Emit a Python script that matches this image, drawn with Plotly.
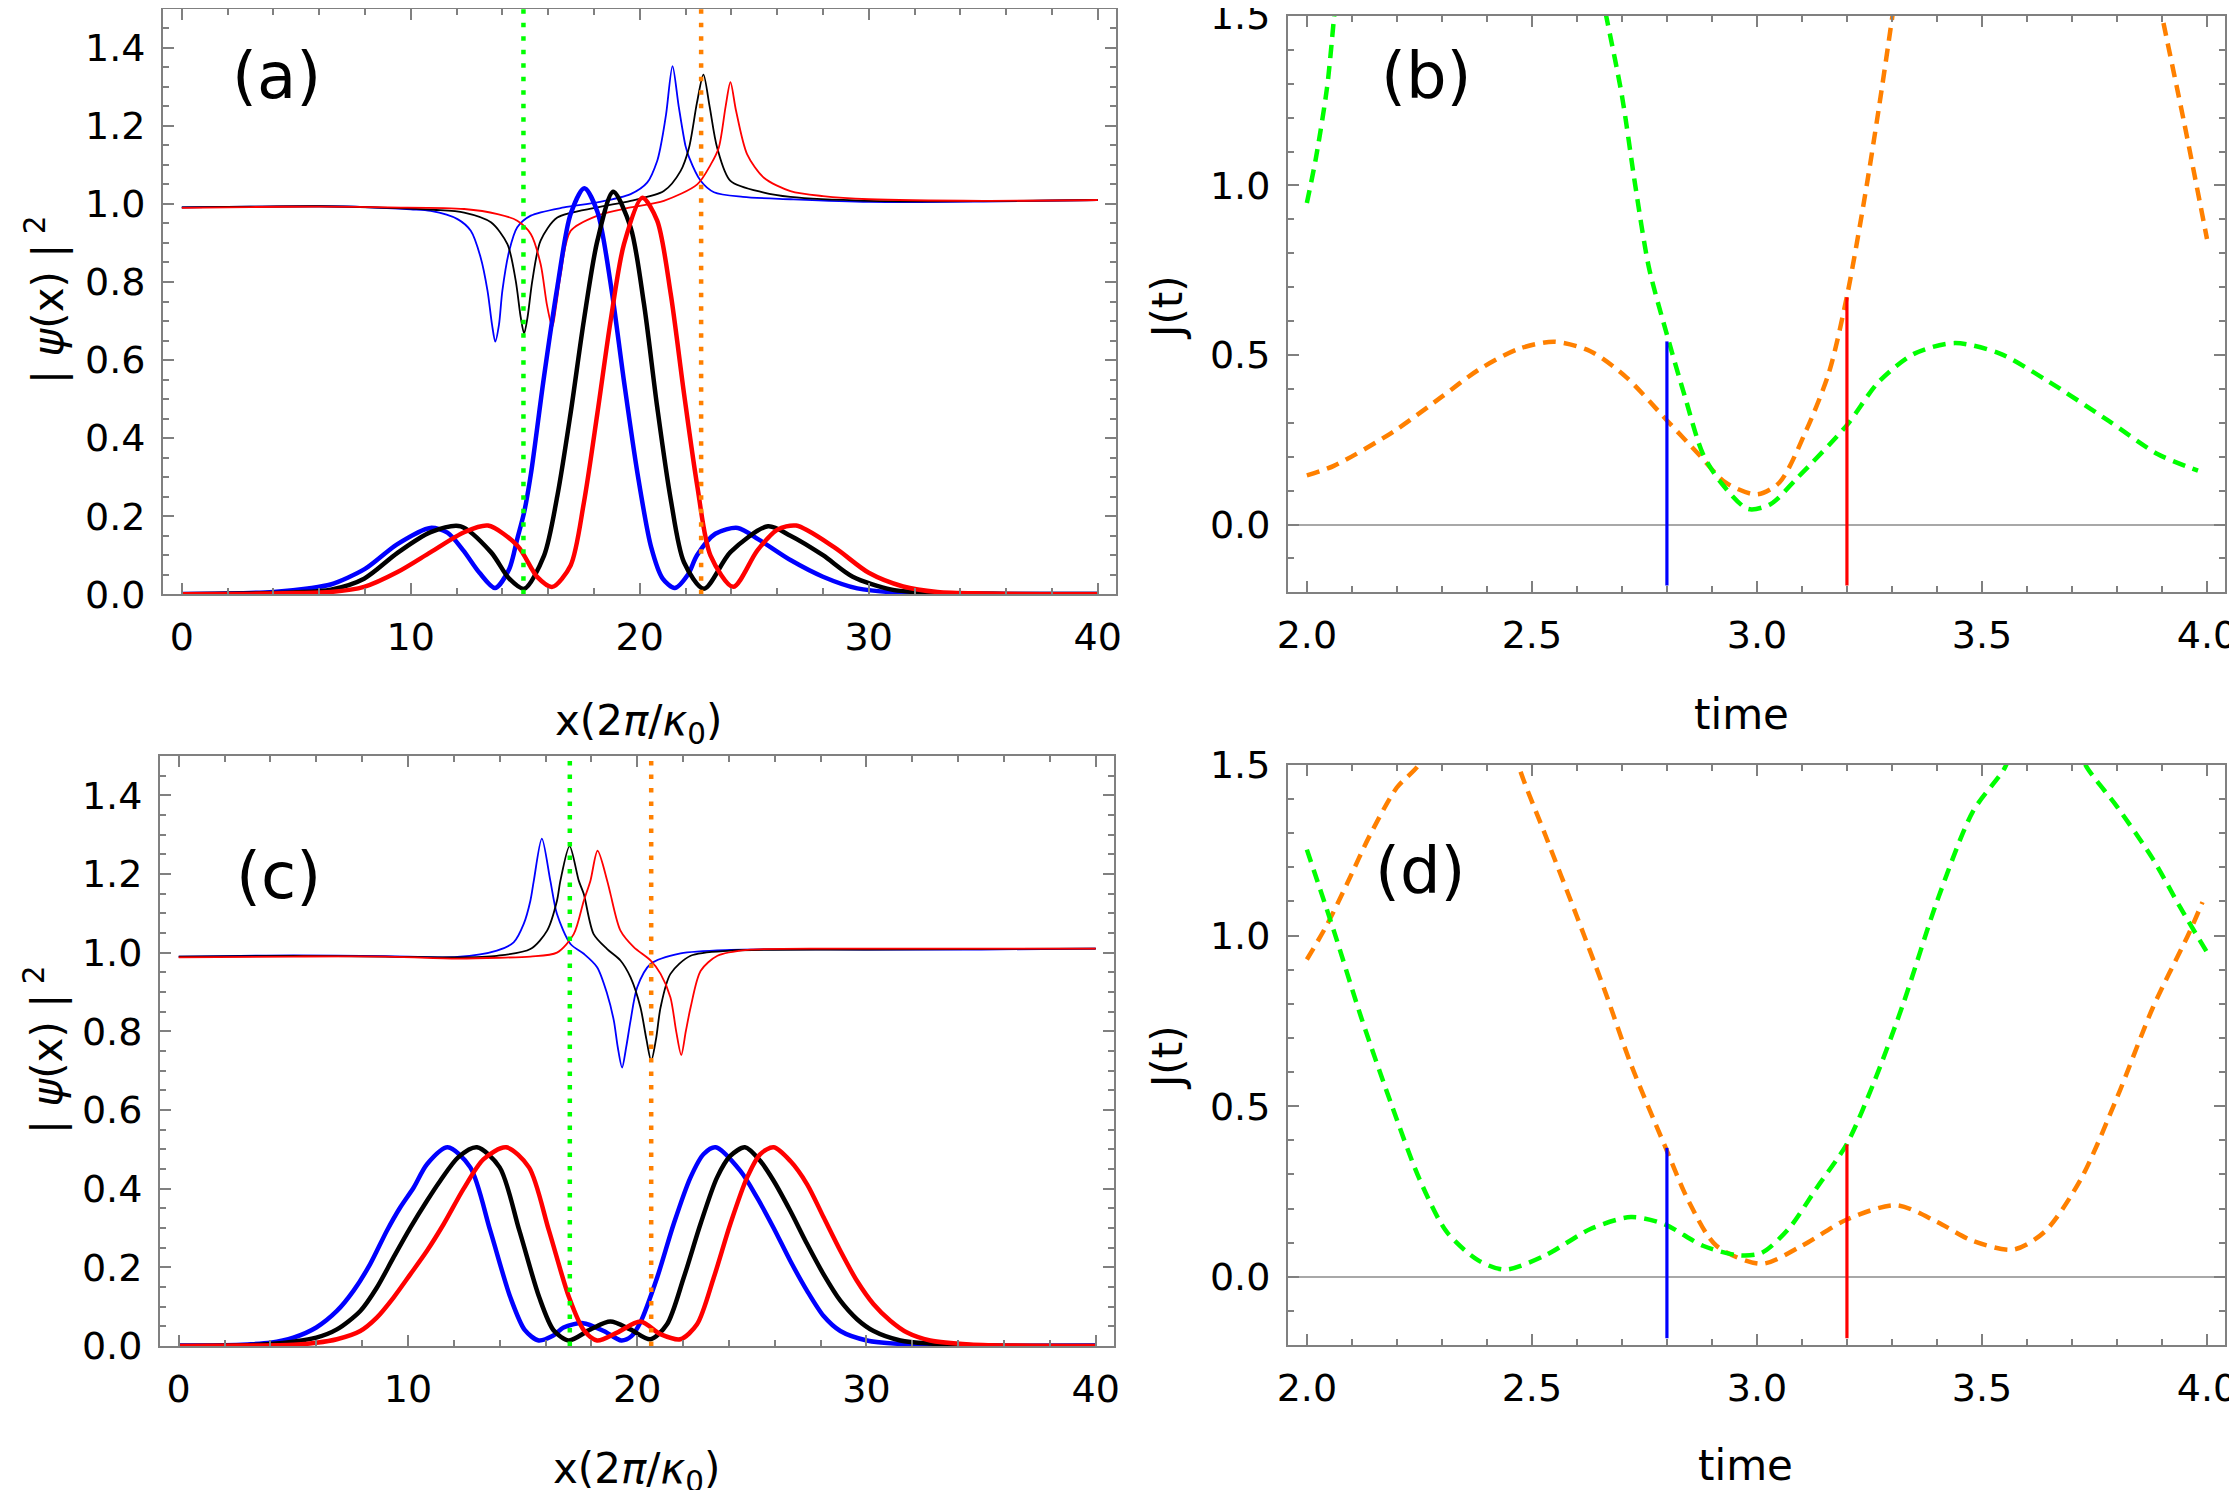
import plotly.graph_objects as go

# ---------------- data ----------------
# panel (a): thick curves
xa_blue = [0, 2, 4, 5.5, 6.5, 8.0, 9.4, 10.85, 11.6, 12.3, 13.0, 13.68, 14.3, 14.65, 14.95, 15.25, 15.8, 16.4,
           16.98, 17.58, 18.15, 18.75, 19.3, 19.9, 20.5, 21.0, 21.53, 22.1, 22.5, 23.3, 24.28, 25.2, 26.6, 28.0,
           29.5, 31, 33, 36, 40]
ya_blue = [0.001, 0.002, 0.006, 0.015, 0.025, 0.065, 0.128, 0.170, 0.158, 0.112, 0.055, 0.016, 0.065, 0.142, 0.21,
           0.31, 0.55, 0.787, 0.974, 1.040, 0.98, 0.787, 0.55, 0.31, 0.12, 0.04, 0.016, 0.05, 0.10, 0.155, 0.170,
           0.14, 0.087, 0.045, 0.015, 0.005, 0.002, 0.001, 0.001]

xa_black = [0, 3, 5, 6.51, 7.96, 9.42, 10.87, 12.18, 13.5, 14.3, 14.95, 15.82, 16.4, 16.98, 17.56, 18.15, 18.84,
            19.6, 20.18, 20.76, 21.35, 21.93, 22.8, 23.96, 25.6, 26.58, 28.0, 29.3, 31, 33, 36, 40]
ya_black = [0.0, 0.002, 0.005, 0.012, 0.04, 0.106, 0.159, 0.174, 0.108, 0.04, 0.014, 0.099, 0.252, 0.464, 0.702,
            0.906, 1.031, 0.94, 0.745, 0.48, 0.244, 0.082, 0.014, 0.108, 0.174, 0.15, 0.10, 0.045, 0.012, 0.003,
            0.001, 0.001]

xa_red = [0, 3, 5, 6.51, 7.96, 9.42, 10.87, 12.33, 13.37, 14.65, 15.53, 16.18, 16.98, 17.56, 18.15, 18.73, 19.31,
          20.11, 20.76, 21.35, 21.93, 22.51, 23.09, 24.08, 25.13, 26.0, 26.83, 28.5, 30, 31.5, 33, 35, 40]
ya_red = [0.0, 0.001, 0.003, 0.006, 0.019, 0.057, 0.108, 0.159, 0.176, 0.125, 0.044, 0.019, 0.074, 0.235, 0.464,
          0.702, 0.897, 1.016, 0.957, 0.77, 0.515, 0.278, 0.099, 0.019, 0.112, 0.165, 0.176, 0.12, 0.055, 0.02,
          0.006, 0.002, 0.0]

# panel (a): thin curves
xa_blue_t = [0, 3, 6, 8, 10, 10.87, 12.04, 12.62, 13.05, 13.35, 13.55, 13.69, 13.85, 14.0, 14.3, 14.65, 15.24,
             16.69, 18.15, 19.6, 20.33, 20.76, 20.9, 21.15, 21.43, 21.7, 22.0, 22.15, 22.65, 23.24, 24.5, 26.58,
             30, 35, 40]
ya_blue_t = [0.991, 0.993, 0.994, 0.992, 0.986, 0.982, 0.961, 0.931, 0.863, 0.778, 0.69, 0.647, 0.69, 0.778, 0.88,
             0.94, 0.97, 0.991, 1.004, 1.025, 1.055, 1.11, 1.144, 1.23, 1.353, 1.25, 1.148, 1.12, 1.06, 1.03,
             1.018, 1.012, 1.005, 1.006, 1.01]

xa_black_t = [0, 3, 6, 9, 11, 12.33, 13.5, 14.22, 14.58, 14.8, 14.95, 15.1, 15.31, 15.67, 16.4, 18.15, 19.6,
              21.05, 21.78, 22.15, 22.5, 22.78, 23.05, 23.38, 23.96, 25.42, 26.58, 30, 35, 40]
ya_black_t = [0.991, 0.993, 0.994, 0.99, 0.985, 0.978, 0.953, 0.897, 0.804, 0.71, 0.668, 0.71, 0.804, 0.906, 0.965,
              0.991, 1.008, 1.033, 1.084, 1.144, 1.26, 1.331, 1.25, 1.144, 1.059, 1.029, 1.018, 1.008, 1.007, 1.01]

xa_red_t = [0, 3, 6, 9, 12.33, 13.79, 14.65, 15.24, 15.67, 15.95, 16.18, 16.35, 16.55, 16.98, 18.15, 19.6, 21.05,
            22.51, 23.09, 23.45, 23.75, 23.96, 24.2, 24.69, 25.42, 26.58, 28, 30, 35, 40]
ya_red_t = [0.99, 0.992, 0.993, 0.991, 0.987, 0.974, 0.957, 0.923, 0.846, 0.74, 0.685, 0.74, 0.82, 0.931, 0.97,
            0.991, 1.008, 1.05, 1.10, 1.144, 1.25, 1.312, 1.24, 1.127, 1.067, 1.033, 1.02, 1.012, 1.008, 1.01]

vlines_a = [14.92, 22.68]          # green, orange dotted markers

# panel (c): thick curves
xc_blue = [0, 2, 3, 4.0, 5.0, 6.0, 6.9, 7.62, 8.35, 9.08, 9.66, 10.25, 10.83, 11.73, 12.72, 13.59, 14.47, 15.1,
           15.7, 16.3, 16.79, 17.64, 18.54, 19.31, 19.75, 20.14, 20.87, 21.59, 22.32, 22.9, 23.42, 24.5, 25.23,
           25.95, 26.68, 27.41, 28.13, 28.86, 30.02, 31.77, 34, 40]
yc_blue = [0.001, 0.002, 0.004, 0.008, 0.021, 0.047, 0.089, 0.14, 0.208, 0.293, 0.352, 0.403, 0.462, 0.505, 0.454,
           0.293, 0.123, 0.04, 0.014, 0.025, 0.047, 0.058, 0.038, 0.014, 0.025, 0.06, 0.174, 0.31, 0.428, 0.488,
           0.505, 0.445, 0.377, 0.30, 0.216, 0.14, 0.076, 0.038, 0.014, 0.004, 0.001, 0.001]

xc_black = [0, 3, 4, 5.0, 6.0, 6.9, 7.92, 8.64, 9.37, 10.1, 10.83, 11.41, 12.2, 13.01, 14.0, 14.86, 15.73, 16.35,
            17.01, 17.96, 18.83, 19.7, 20.58, 21.3, 22.03, 22.76, 23.48, 24.06, 24.7, 25.37, 25.95, 26.68, 27.41,
            28.13, 28.86, 29.59, 30.31, 31.48, 32.8, 35, 40]
yc_black = [0.0, 0.002, 0.005, 0.011, 0.021, 0.042, 0.089, 0.148, 0.225, 0.30, 0.369, 0.42, 0.48, 0.505, 0.454,
            0.293, 0.123, 0.04, 0.014, 0.042, 0.062, 0.042, 0.017, 0.055, 0.174, 0.31, 0.428, 0.483, 0.505, 0.47,
            0.42, 0.343, 0.259, 0.182, 0.115, 0.068, 0.038, 0.014, 0.006, 0.001, 0.0]

xc_red = [0, 3, 5, 6.0, 6.9, 7.92, 8.64, 9.37, 10.1, 10.83, 11.56, 12.43, 13.3, 14.28, 15.28, 16.15, 17.03, 17.67,
          18.25, 19.12, 20.14, 21.01, 21.88, 22.61, 23.34, 24.06, 24.79, 25.37, 25.95, 26.68, 27.41, 28.13, 28.86,
          29.59, 30.31, 31.04, 31.77, 32.78, 34.5, 40]
yc_red = [0.0, 0.001, 0.003, 0.008, 0.017, 0.038, 0.072, 0.123, 0.182, 0.242, 0.31, 0.40, 0.475, 0.505, 0.454,
          0.293, 0.123, 0.04, 0.014, 0.034, 0.062, 0.03, 0.017, 0.055, 0.174, 0.31, 0.428, 0.488, 0.505, 0.47,
          0.411, 0.327, 0.242, 0.165, 0.106, 0.064, 0.034, 0.014, 0.004, 0.0]

# panel (c): thin curves
xc_blue_t = [0, 5, 9, 12.15, 13.88, 14.61, 15.05, 15.34, 15.49, 15.84, 16.21, 16.5, 17.09, 17.67, 18.25, 18.69,
             18.98, 19.15, 19.34, 19.52, 19.71, 20.0, 20.58, 21.89, 24.08, 30, 35, 40]
yc_blue_t = [0.99, 0.993, 0.991, 0.989, 1.005, 1.026, 1.073, 1.132, 1.183, 1.29, 1.183, 1.098, 1.022, 0.997, 0.963,
             0.895, 0.827, 0.76, 0.708, 0.76, 0.827, 0.912, 0.971, 0.998, 1.007, 1.008, 1.008, 1.01]

xc_black_t = [0, 5, 9, 12, 13.88, 15.34, 16.07, 16.5, 16.65, 17.05, 17.45, 17.67, 18.1, 18.69, 19.27, 19.71, 20.14,
              20.4, 20.61, 20.82, 21.02, 21.45, 22.33, 24.08, 30, 40]
yc_black_t = [0.99, 0.992, 0.99, 0.988, 0.992, 1.009, 1.056, 1.132, 1.183, 1.271, 1.183, 1.149, 1.047, 1.009, 0.98,
              0.937, 0.861, 0.78, 0.725, 0.78, 0.861, 0.946, 0.992, 1.005, 1.008, 1.01]

xc_red_t = [0, 5, 9, 12.15, 14, 15.34, 16.5, 17.23, 17.67, 17.96, 18.27, 18.69, 18.83, 19.27, 19.85, 20.58, 21.02,
            21.45, 21.7, 21.92, 22.12, 22.33, 22.77, 23.5, 24.82, 30, 40]
yc_red_t = [0.988, 0.99, 0.99, 0.985, 0.987, 0.99, 1.0, 1.047, 1.132, 1.183, 1.259, 1.183, 1.15, 1.056, 1.014,
            0.98, 0.946, 0.886, 0.8, 0.74, 0.8, 0.861, 0.954, 0.992, 1.007, 1.01, 1.01]

vlines_c = [17.06, 20.61]

# panel (b): J(t), None where the curve leaves the frame
tb_orange = [2.0, 2.06, 2.19, 2.3, 2.38, 2.47, 2.55, 2.63, 2.71, 2.8, 2.87, 2.93, 3.0, 3.05, 3.11, 3.16, 3.2, 3.24,
             3.27, 3.30, 3.315, None, 3.885, 3.9, 3.95, 4.0]
jb_orange = [0.145, 0.173, 0.272, 0.377, 0.455, 0.518, 0.539, 0.511, 0.434, 0.307, 0.208, 0.124, 0.089, 0.124,
             0.279, 0.448, 0.673, 0.969, 1.22, 1.49, 1.63, None, 1.6, 1.5, 1.18, 0.842]

tb_green = [2.0, 2.02, 2.045, 2.06, 2.07, None, 2.645, 2.665, 2.70, 2.73, 2.76, 2.8, 2.84, 2.88, 2.92, 2.98, 3.03,
            3.09, 3.2, 3.27, 3.35, 3.44, 3.54, 3.65, 3.78, 3.89, 3.98]
jb_green = [0.948, 1.08, 1.29, 1.49, 1.63, None, 1.63, 1.5, 1.265, 0.997, 0.758, 0.56, 0.377, 0.208, 0.124, 0.046,
            0.06, 0.138, 0.293, 0.42, 0.504, 0.535, 0.504, 0.42, 0.307, 0.208, 0.159]

seg_t = [2.8, 3.2]                 # blue, red vertical markers
seg_top_b = [0.54, 0.67]

# panel (d)
td_orange = [2.0, 2.044, 2.09, 2.14, 2.2, 2.25, 2.265, None, 2.455, 2.47, 2.53, 2.6, 2.66, 2.72, 2.795, 2.85, 2.91,
             3.01, 3.10, 3.2, 3.31, 3.40, 3.48, 3.57, 3.64, 3.72, 3.80, 3.88, 3.96, 3.99]
jd_orange = [0.93, 1.03, 1.154, 1.294, 1.434, 1.504, 1.6, None, 1.6, 1.5, 1.294, 1.056, 0.846, 0.623, 0.385, 0.217,
             0.091, 0.038, 0.091, 0.168, 0.21, 0.161, 0.105, 0.08, 0.133, 0.287, 0.525, 0.79, 1.007, 1.098]

td_green = [2.0, 2.06, 2.12, 2.19, 2.25, 2.31, 2.38, 2.44, 2.53, 2.63, 2.72, 2.795, 2.88, 2.96, 3.01, 3.07, 3.135,
            3.2, 3.26, 3.325, 3.40, 3.48, 3.55, 3.57, None, 3.715, 3.73, 3.80, 3.88, 3.94, 4.0]
jd_green = [1.252, 1.014, 0.763, 0.497, 0.287, 0.133, 0.049, 0.021, 0.063, 0.14, 0.175, 0.154, 0.091, 0.063, 0.07,
            0.14, 0.265, 0.39, 0.57, 0.80, 1.10, 1.364, 1.49, 1.56, None, 1.56, 1.5, 1.378, 1.224, 1.084, 0.951]

seg_top_d = [0.378, 0.388]
seg_bottom = -0.18

# ---------------- figure ----------------
# the page keeps the browser's 8px body margin, so the figure is 16px smaller than the window
W, H = 2221, 1482
FONT = "DejaVu Sans, Verdana, sans-serif"
BLUE, RED, BLACK = "#0000ff", "#ff0000", "#000000"
GREEN, ORANGE = "#00ff00", "#ff8000"
FRAME = "#808080"

fig = go.Figure()


def add_line(x, y, color, width, xa, ya, dash="solid", smooth=0.8):
    fig.add_trace(go.Scatter(x=x, y=y, mode="lines", xaxis=xa, yaxis=ya, showlegend=False,
                             hoverinfo="skip", connectgaps=False,
                             line=dict(color=color, width=width, dash=dash, shape="spline",
                                       smoothing=smooth)))


def add_straight(x, y, color, width, xa, ya, dash="solid"):
    fig.add_trace(go.Scatter(x=x, y=y, mode="lines", xaxis=xa, yaxis=ya, showlegend=False,
                             hoverinfo="skip", line=dict(color=color, width=width, dash=dash)))


DOT = "4.5px,9px"
DASH = "13px,8px"

# (a)
for xs, ys, c in [(xa_blue_t, ya_blue_t, BLUE), (xa_black_t, ya_black_t, BLACK), (xa_red_t, ya_red_t, RED)]:
    add_line(xs, ys, c, 1.8, "x", "y")
for xs, ys, c in [(xa_blue, ya_blue, BLUE), (xa_black, ya_black, BLACK), (xa_red, ya_red, RED)]:
    add_line(xs, ys, c, 4.5, "x", "y")
for v, c in zip(vlines_a, [GREEN, ORANGE]):
    add_straight([v, v], [0, 1.5], c, 4.5, "x", "y", DOT)

# (b)
add_line(tb_orange, jb_orange, ORANGE, 4.5, "x2", "y2", DASH)
add_line(tb_green, jb_green, GREEN, 4.5, "x2", "y2", DASH)
for t, top, c in zip(seg_t, seg_top_b, [BLUE, RED]):
    add_straight([t, t], [seg_bottom, top], c, 3.2, "x2", "y2")

# (c)
for xs, ys, c in [(xc_blue_t, yc_blue_t, BLUE), (xc_black_t, yc_black_t, BLACK), (xc_red_t, yc_red_t, RED)]:
    add_line(xs, ys, c, 1.8, "x3", "y3")
for xs, ys, c in [(xc_blue, yc_blue, BLUE), (xc_black, yc_black, BLACK), (xc_red, yc_red, RED)]:
    add_line(xs, ys, c, 4.5, "x3", "y3")
for v, c in zip(vlines_c, [GREEN, ORANGE]):
    add_straight([v, v], [0, 1.5], c, 4.5, "x3", "y3", DOT)

# (d)
add_line(td_orange, jd_orange, ORANGE, 4.5, "x4", "y4", DASH)
add_line(td_green, jd_green, GREEN, 4.5, "x4", "y4", DASH)
for t, top, c in zip(seg_t, seg_top_d, [BLUE, RED]):
    add_straight([t, t], [seg_bottom, top], c, 3.2, "x4", "y4")

tickfont = dict(family=FONT, size=38, color="black")


def xaxis(domain, rng, dtick, minor, fmt, anchor):
    return dict(domain=domain, range=rng, anchor=anchor, dtick=dtick, tick0=0, tickformat=fmt,
                automargin=False, ticklabeloverflow="allow",
                showline=True, linecolor=FRAME, linewidth=2, mirror="ticks", ticks="inside",
                ticklen=11, tickwidth=2, tickcolor=FRAME, showgrid=False, zeroline=False,
                tickfont=tickfont, ticklabelstandoff=8,
                minor=dict(ticks="inside", ticklen=6, tickwidth=1.5, tickcolor=FRAME, dtick=minor,
                           showgrid=False))


def yaxis(domain, rng, dtick, minor, anchor, zero):
    return dict(domain=domain, range=rng, anchor=anchor, dtick=dtick, tick0=0, tickformat=".1f",
                automargin=False, ticklabeloverflow="allow",
                showline=True, linecolor=FRAME, linewidth=2, mirror="ticks", ticks="inside",
                ticklen=11, tickwidth=2, tickcolor=FRAME, showgrid=False,
                zeroline=zero, zerolinecolor="#a8a8a8", zerolinewidth=1.5,
                tickfont=tickfont, ticklabelstandoff=8,
                minor=dict(ticks="inside", ticklen=6, tickwidth=1.5, tickcolor=FRAME, dtick=minor,
                           showgrid=False))


fig.update_layout(
    width=W, height=H, margin=dict(l=0, r=0, t=0, b=0, autoexpand=False),
    paper_bgcolor="white", plot_bgcolor="white", showlegend=False,
    xaxis=xaxis([0.0698, 0.4989], [-0.82, 40.8], 10, 2, "d", "y"),
    yaxis=yaxis([0.6044, 0.9995], [0, 1.5], 0.2, 0.05, "x", False),
    xaxis2=xaxis([0.5763, 0.9982], [1.958, 4.04], 0.5, 0.1, ".1f", "y2"),
    yaxis2=yaxis([0.6057, 0.9947], [-0.2, 1.5], 0.5, 0.1, "x2", True),
    xaxis3=xaxis([0.0684, 0.4980], [-0.82, 40.8], 10, 2, "d", "y3"),
    yaxis3=yaxis([0.0972, 0.4953], [0, 1.5], 0.2, 0.05, "x3", False),
    xaxis4=xaxis([0.5763, 0.9982], [1.958, 4.04], 0.5, 0.1, ".1f", "y4"),
    yaxis4=yaxis([0.0978, 0.4892], [-0.2, 1.5], 0.5, 0.1, "x4", True),
)

labels = [("(a)", 0.1211, 0.9538), ("(b)", 0.6389, 0.9541), ("(c)", 0.1218, 0.4146), ("(d)", 0.6358, 0.4177)]
for txt, px, py in labels:
    fig.add_annotation(text=txt, x=px, y=py, xref="paper", yref="paper", showarrow=False,
                       xanchor="center", yanchor="middle", font=dict(family=FONT, size=64, color="black"))

ytitle = "| <i>ψ</i>(x) |<sup> 2</sup>"
xtitle = "x(2<i>π</i>/<i>κ</i><sub>0</sub>)"
titles = [
    (xtitle, 0.2841, 0.5169, 0), (xtitle, 0.2828, 0.0125, 0),
    ("time", 0.7806, 0.5236, 0), ("time", 0.7821, 0.0162, 0),
    (ytitle, 0.0171, 0.8030, -90), (ytitle, 0.0167, 0.2969, -90),
    ("J(t)", 0.5223, 0.7976, -90), ("J(t)", 0.5223, 0.2915, -90),
]
for txt, px, py, ang in titles:
    fig.add_annotation(text=txt, x=px, y=py, xref="paper", yref="paper", showarrow=False,
                       textangle=ang, xanchor="center", yanchor="middle",
                       font=dict(family=FONT, size=42, color="black"))

fig.write_html("out.html", config={"displayModeBar": False})
